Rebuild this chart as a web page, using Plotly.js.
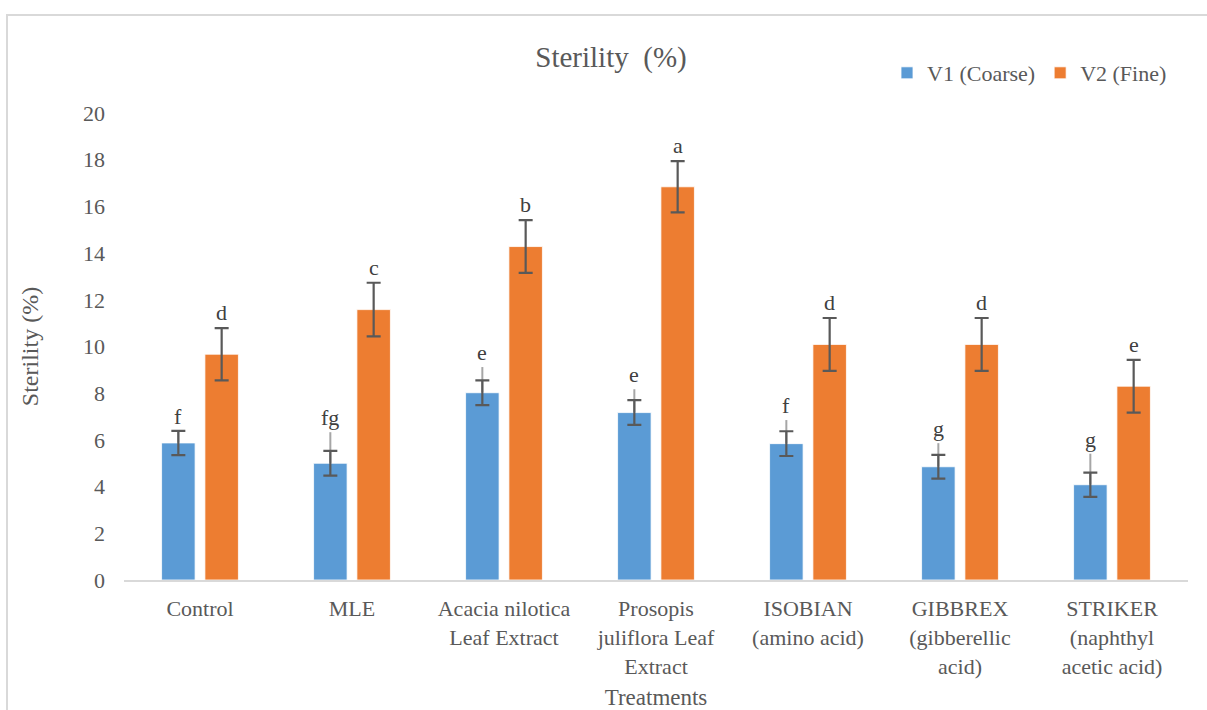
<!DOCTYPE html>
<html>
<head>
<meta charset="utf-8">
<script src="https://cdn.plot.ly/plotly-3.0.1.min.js"></script>
<style>
  html, body { margin: 0; padding: 0; background: #ffffff; }
  #chart { width: 1207px; height: 710px; }
</style>
</head>
<body>
<div id="chart"></div>
<script>
// ---- data ----
const categories = [
  "Control",
  "MLE",
  "Acacia nilotica<br>Leaf Extract",
  "Prosopis<br>juliflora Leaf<br>Extract",
  "ISOBIAN<br>(amino acid)",
  "GIBBREX<br>(gibberellic<br>acid)",
  "STRIKER<br>(naphthyl<br>acetic acid)"
];
const seriesNames = ["V1 (Coarse)", "V2 (Fine)"];
const v1Values = [5.87, 5.0, 8.02, 7.17, 5.84, 4.85, 4.08];
const v2Values = [9.67, 11.58, 14.28, 16.84, 10.09, 10.09, 8.30];
const v1Errors = [0.52, 0.53, 0.53, 0.53, 0.53, 0.51, 0.52];
const v2Errors = [1.12, 1.15, 1.13, 1.10, 1.13, 1.13, 1.13];
// light grey upward extension drawn above some V1 error bars
const v1UpperExtra = [0, 0.80, 0.57, 0.47, 0.48, 0.50, 0.81];
const v1Letters = ["f", "fg", "e", "e", "f", "g", "g"];
const v2Letters = ["d", "c", "b", "a", "d", "d", "e"];
const yTicks = [0, 2, 4, 6, 8, 10, 12, 14, 16, 18, 20];

// ---- layout geometry ----
const W = 1207, H = 710;
const mL = 124, mR = 19, mT = 113, mB = 130;
const plotW = W - mL - mR, plotH = H - mT - mB;
const bargap = 0.43, bargroupgap = 0.226;
const catW = plotW / categories.length;
const offsetPx = catW * (1 - bargap) / 4;

const FONT = "Liberation Serif";
const GREY = "#595959";

const errStyle = (arr) => ({
  type: "data", array: arr, visible: true,
  color: "#595959", thickness: 2.2, width: 7
});

const v1UpperTotal = v1Values.map((v, i) => v1Errors[i] + v1UpperExtra[i]);
const v1Top = v1Values.map((v, i) => v + v1UpperTotal[i]);
const v2Top = v2Values.map((v, i) => v + v2Errors[i]);

const traces = [
  {
    // transparent overlay carrying the light grey extension line (drawn first)
    type: "bar", name: "ext", x: categories, y: v1Values, offsetgroup: "g1",
    marker: { color: "rgba(0,0,0,0)" }, showlegend: false, hoverinfo: "skip",
    error_y: {
      type: "data", symmetric: false, array: v1UpperTotal,
      arrayminus: v1Values.map(() => 0), visible: true,
      color: "#A6A6A6", thickness: 2, width: 0
    }
  },
  {
    type: "bar", name: seriesNames[0], x: categories, y: v1Values, offsetgroup: "g1",
    marker: { color: "#5B9BD5", line: { color: "#ffffff", width: 0.8 } },
    error_y: errStyle(v1Errors), hoverinfo: "y"
  },
  {
    type: "bar", name: seriesNames[1], x: categories, y: v2Values, offsetgroup: "g2",
    marker: { color: "#ED7D31", line: { color: "#ffffff", width: 0.8 } },
    error_y: errStyle(v2Errors), hoverinfo: "y"
  }
];

const annotations = [];
categories.forEach((c, i) => {
  annotations.push({
    x: c, y: v1Top[i], xref: "x", yref: "y",
    text: v1Letters[i], showarrow: false, xanchor: "center", yanchor: "bottom",
    xshift: -offsetPx, yshift: 0,
    font: { family: FONT, size: 22, color: "#404040" }
  });
  annotations.push({
    x: c, y: v2Top[i], xref: "x", yref: "y",
    text: v2Letters[i], showarrow: false, xanchor: "center", yanchor: "bottom",
    xshift: offsetPx, yshift: 1,
    font: { family: FONT, size: 22, color: "#404040" }
  });
});

// chart-area border (light grey frame)
const px2x = (px) => (px - mL) / plotW;
const px2y = (py) => (H - mB - py) / plotH;
const shapes = [{
  type: "rect", xref: "paper", yref: "paper",
  x0: px2x(7), x1: px2x(1230), y0: px2y(740), y1: px2y(15),
  line: { color: "#D9D9D9", width: 2 }, fillcolor: "rgba(0,0,0,0)", layer: "below"
}];

const layout = {
  width: W, height: H,
  margin: { l: mL, r: mR, t: mT, b: mB, pad: 0 },
  paper_bgcolor: "#ffffff", plot_bgcolor: "#ffffff",
  font: { family: FONT, color: GREY, size: 22 },
  title: {
    text: "Sterility&nbsp; (%)",
    font: { family: FONT, size: 29, color: GREY },
    x: 611 / W, xanchor: "center", xref: "container",
    y: 1 - 57 / H, yanchor: "middle", yref: "container"
  },
  barmode: "group", bargap: bargap, bargroupgap: bargroupgap,
  showlegend: true,
  legend: {
    orientation: "h", x: px2x(1172), xanchor: "right", y: 1 + (113 - 73) / plotH, yanchor: "middle",
    font: { family: FONT, size: 22, color: GREY },
    itemwidth: 30, traceorder: "normal", bgcolor: "rgba(0,0,0,0)"
  },
  xaxis: {
    type: "category", showgrid: false, zeroline: false,
    showline: true, linecolor: "#D9D9D9", linewidth: 2,
    ticks: "", ticklabelstandoff: 8,
    tickfont: { family: FONT, size: 22, color: GREY },
    title: { text: "Treatments", font: { family: FONT, size: 23, color: GREY }, standoff: 30 },
    automargin: false
  },
  yaxis: {
    range: [0, 20], tickvals: yTicks, ticktext: yTicks.map(String),
    showgrid: false, zeroline: false, showline: false, ticks: "",
    ticklabelstandoff: 18,
    tickfont: { family: FONT, size: 22, color: GREY },
    title: { text: "Sterility (%)", font: { family: FONT, size: 24, color: GREY }, standoff: 37 },
    automargin: false
  },
  annotations: annotations,
  shapes: shapes
};

Plotly.newPlot("chart", traces, layout, { displayModeBar: false, staticPlot: true });
</script>
</body>
</html>
